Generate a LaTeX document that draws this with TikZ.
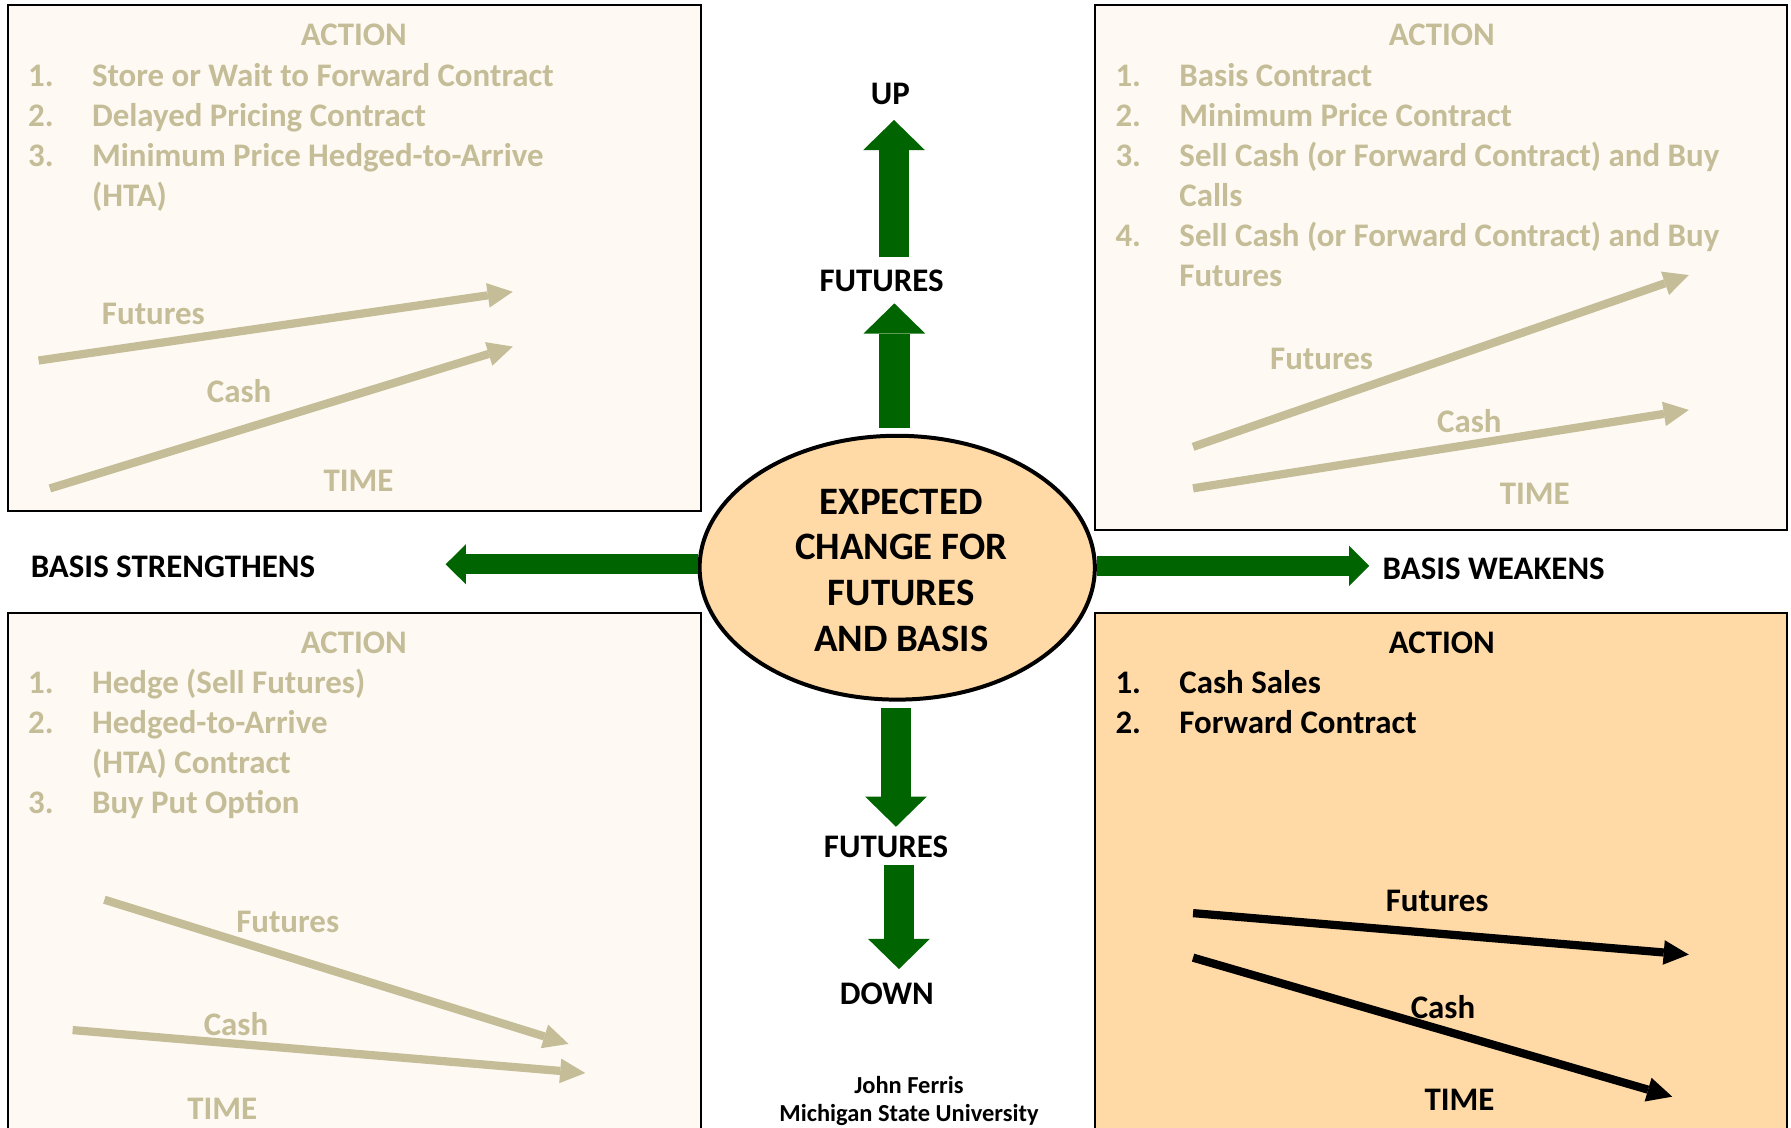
\documentclass[tikz,border=0pt]{standalone}
\usepackage{fontspec}
\setmainfont{Carlito}
\usetikzlibrary{arrows.meta,shapes.geometric}

\definecolor{mutedtan}{HTML}{C4BD97}
\definecolor{creamfill}{HTML}{FEF9F2}
\definecolor{peachfill}{HTML}{FFDAA6}
\definecolor{arrowgreen}{HTML}{006400}

% numbered entry: number in a fixed-width column, then the text
\newcommand{\itm}[2]{\makebox[28pt][l]{#1}#2}

\begin{document}
\begin{tikzpicture}[x=0.5pt,y=-0.5pt,
  panel/.style={draw=black,line width=0.9pt},
  txt/.style={font=\bfseries\fontsize{14.4}{17.5}\selectfont,inner sep=0pt,outer sep=0pt},
  head/.style={txt,anchor=base},
  listtxt/.style={txt,anchor=base west},
  faded/.style={text=mutedtan},
  trendline/.style={line width=3.6pt,line cap=butt,
    -{Triangle[length=11pt,width=10.8pt,line width=0pt]}},
  vblock/.style={arrowgreen,line width=13.5pt,line cap=butt,
    -{Triangle[length=13.2pt,width=27pt,line width=0pt]}},
  hblock/.style={arrowgreen,line width=8.75pt,line cap=butt,
    -{Triangle[length=8.8pt,width=17.5pt,line width=0pt]}},
]
\clip (0,0) rectangle (1568,987);
\fill[white] (0,0) rectangle (1568,987);

% ---- four action panels ----
\draw[panel,fill=creamfill] (6.7,4.4) rectangle (613.7,447);
\draw[panel,fill=creamfill] (959,4.5) rectangle (1564.7,463.7);
\draw[panel,fill=creamfill] (6.7,536.5) rectangle (613.7,1000);
\draw[panel,fill=peachfill] (959,536.5) rectangle (1564.7,1000);

% ---- central ellipse ----
\node (core) [ellipse,draw,line width=1.75pt,fill=peachfill,
  minimum width=173pt,minimum height=115.5pt,inner sep=0pt] at (785.5,497) {};
\node (coretext) [txt,font=\bfseries\fontsize{17}{20}\selectfont,anchor=base]
  at (789,450) {\begin{tabular}[t]{@{}c@{}}EXPECTED\\CHANGE FOR\\FUTURES\\AND BASIS\end{tabular}};

% ---- direction labels ----
\node (up) [head] at (779.6,91.3) {UP};
\node (futUp) [head] at (771.9,255) {FUTURES};
\node (futDown) [head] at (775.7,750.3) {FUTURES};
\node (down) [head] at (776.4,879.3) {DOWN};
\node (strengthen) [listtxt] at (27,505.5) {BASIS STRENGTHENS};
\node (weaken) [listtxt] at (1210.5,507) {BASIS WEAKENS};

% ---- green block arrows ----
\coordinate (upTipA) at (782.7,105);
\coordinate (upTipB) at (783,265.6);
\coordinate (downTipA) at (784.4,723.8);
\coordinate (downTipB) at (787,848.4);
\coordinate (leftTip) at (390.2,494);
\coordinate (rightTip) at (1198.8,495.4);

\draw[vblock,shorten <=5.6pt] (futUp.north -| upTipA) -- (upTipA);
\draw[vblock,shorten <=2.6pt] (core.north -| upTipB) -- (upTipB);
\draw[vblock,shorten <=2.9pt] (core.south -| downTipA) -- (downTipA);
\draw[vblock,shorten <=3.5pt] (futDown.south -| downTipB) -- (downTipB);
\draw[hblock] (core.west |- leftTip) -- (leftTip);
\draw[hblock] (core.east |- rightTip) -- (rightTip);

% ---- top-left panel ----
\node (tlHead) [head,faded] at (309.8,40) {ACTION};
\node (tlList) [listtxt,faded] at (24.6,75.5) {\begin{tabular}[t]{@{}l@{}}
  \itm{1.}{Store or Wait to Forward Contract}\\
  \itm{2.}{Delayed Pricing Contract}\\
  \itm{3.}{Minimum Price Hedged-to-Arrive}\\
  \itm{}{(HTA)}\end{tabular}};
\draw[trendline,mutedtan] (33.8,315.6) -- (448.9,255.4);
\draw[trendline,mutedtan] (43.7,427.6) -- (448.9,303.4);
\node (tlFut) [head,faded] at (134.3,284.2) {Futures};
\node (tlCash) [head,faded] at (209.4,352) {Cash};
\node (tlTime) [head,faded] at (313.8,430.2) {TIME};

% ---- top-right panel ----
\node (trHead) [head,faded] at (1262.3,40) {ACTION};
\node (trList) [listtxt,faded] at (976.6,75.5) {\begin{tabular}[t]{@{}l@{}}
  \itm{1.}{Basis Contract}\\
  \itm{2.}{Minimum Price Contract}\\
  \itm{3.}{Sell Cash (or Forward Contract) and Buy}\\
  \itm{}{Calls}\\
  \itm{4.}{Sell Cash (or Forward Contract) and Buy}\\
  \itm{}{Futures}\end{tabular}};
\draw[trendline,mutedtan] (1044.5,391.2) -- (1478.5,240.8);
\draw[trendline,mutedtan] (1044.5,427.5) -- (1478.5,358.9);
\node (trFut) [head,faded] at (1157,323.5) {Futures};
\node (trCash) [head,faded] at (1286.4,378.5) {Cash};
\node (trTime) [head,faded] at (1343.6,441.9) {TIME};

% ---- bottom-left panel ----
\node (blHead) [head,faded] at (309.8,572.5) {ACTION};
\node (blList) [listtxt,faded] at (24.6,607) {\begin{tabular}[t]{@{}l@{}}
  \itm{1.}{Hedge (Sell Futures)}\\
  \itm{2.}{Hedged-to-Arrive}\\
  \itm{}{(HTA) Contract}\\
  \itm{3.}{Buy Put Option}\end{tabular}};
\draw[trendline,mutedtan] (91.4,787.7) -- (497.7,913.9);
\draw[trendline,mutedtan] (63.6,901.8) -- (512.4,939.4);
\node (blFut) [head,faded] at (251.9,816.1) {Futures};
\node (blCash) [head,faded] at (206.6,906.6) {Cash};
\node (blTime) [head,faded] at (194.6,979.7) {TIME};

% ---- bottom-right panel ----
\node (brHead) [head] at (1262.3,572.5) {ACTION};
\node (brList) [listtxt] at (976.6,607) {\begin{tabular}[t]{@{}l@{}}
  \itm{1.}{Cash Sales}\\
  \itm{2.}{Forward Contract}\end{tabular}};
\draw[trendline,black] (1044.5,799.4) -- (1478.5,835.7);
\draw[trendline,black] (1044.5,838.4) -- (1464,960.1);
\node (brFut) [head] at (1258.2,797.9) {Futures};
\node (brCash) [head] at (1263.3,891.9) {Cash};
\node (brTime) [head] at (1277.8,972.3) {TIME};

% ---- credit ----
\node (author) [txt,font=\bfseries\fontsize{10.7}{12}\selectfont,anchor=base]
  at (795.8,957.5) {\begin{tabular}[t]{@{}c@{}}John Ferris\\Michigan State University\end{tabular}};
\end{tikzpicture}
\end{document}
